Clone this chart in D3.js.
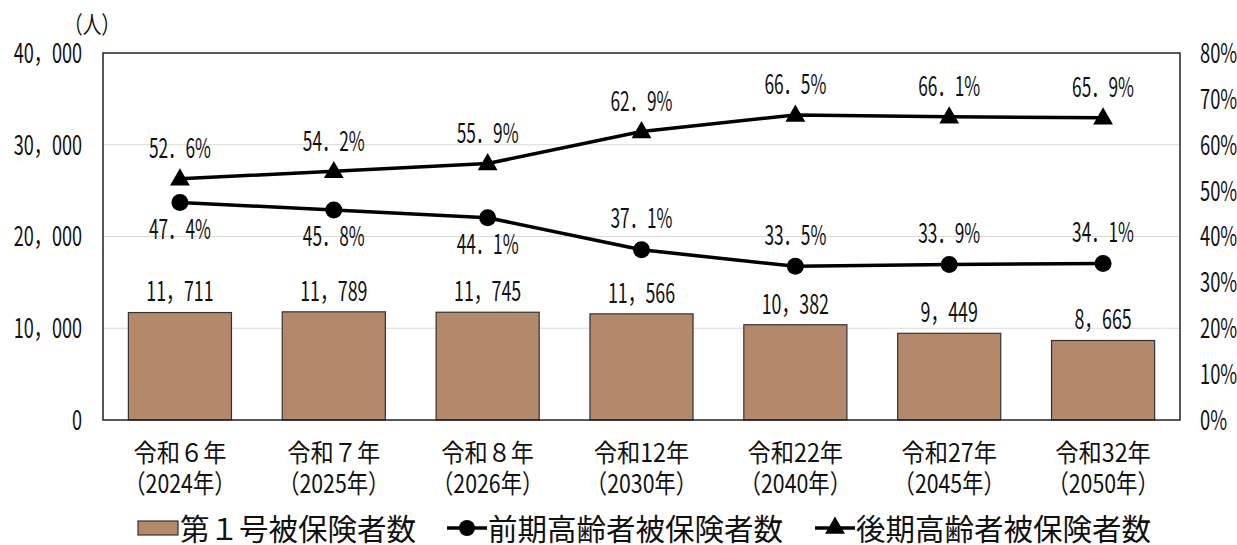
<!DOCTYPE html>
<html lang="ja">
<head>
<meta charset="utf-8">
<script src="https://cdn.jsdelivr.net/npm/d3@7"></script>
<style>
  html, body { margin: 0; padding: 0; background: #fff; }
  svg { display: block; font-family: "Noto Sans CJK JP", "Noto Sans", sans-serif; }
</style>
</head>
<body>
<svg id="chart" width="1237" height="545"></svg>
<script>
// 年度ラベル（2段表記）
const categories = ["令和６年", "令和７年", "令和８年", "令和12年", "令和22年", "令和27年", "令和32年"];
const categoryYears = ["（2024年）", "（2025年）", "（2026年）", "（2030年）", "（2040年）", "（2045年）", "（2050年）"];

// 第１号被保険者数（人）
const firstInsured = [11711, 11789, 11745, 11566, 10382, 9449, 8665];
// 前期高齢者の割合（%）
const earlyElderly = [47.4, 45.8, 44.1, 37.1, 33.5, 33.9, 34.1];
// 後期高齢者の割合（%）
const lateElderly = [52.6, 54.2, 55.9, 62.9, 66.5, 66.1, 65.9];

const leftTicks = [0, 10000, 20000, 30000, 40000];
const rightTicks = [0, 10, 20, 30, 40, 50, 60, 70, 80];

const seriesNames = ["第１号被保険者数", "前期高齢者被保険者数", "後期高齢者被保険者数"];

const svg = d3.select("#chart");
const plot = { left: 103, right: 1180, top: 53, bottom: 420 };
const barColor = "#b4886a";
const numSize = 27;

const x = d3.scaleBand()
  .domain(categories)
  .range([plot.left, plot.right])
  .paddingInner(0.33)
  .paddingOuter(0.165);
const yL = d3.scaleLinear().domain([0, 40000]).range([plot.bottom, plot.top]);
const yR = d3.scaleLinear().domain([0, 80]).range([plot.bottom, plot.top]);
const cx = c => x(c) + x.bandwidth() / 2;

// 数字の多いラベルは横方向に縮めて描く（アンカー位置を基準に縮小）
function condense(sel, factor) {
  sel.each(function () {
    const t = d3.select(this);
    const ax = +(t.attr("x") || 0);
    const prev = t.attr("transform") || "";
    t.attr("transform", `${prev} translate(${ax},0) scale(${factor},1) translate(${-ax},0)`);
  });
}

const fmtNum = d => d3.format(",")(d).replace(/,/g, "，");
const fmtPct = d => d.toFixed(1).replace(".", "．") + "%";

// 横グリッド線
svg.append("g")
  .selectAll("line")
  .data(leftTicks.filter(t => t > 0 && t < 40000))
  .join("line")
  .attr("x1", plot.left).attr("x2", plot.right)
  .attr("y1", d => yL(d)).attr("y2", d => yL(d))
  .attr("stroke", "#d9d9d9").attr("stroke-width", 1.2);

// 左軸
const axL = svg.append("g")
  .attr("transform", `translate(${plot.left},0)`)
  .call(d3.axisLeft(yL).tickValues(leftTicks).tickFormat(fmtNum).tickSize(0).tickPadding(21));
axL.select(".domain").remove();
axL.selectAll("text")
  .attr("font-family", "Noto Sans CJK JP").attr("font-size", numSize).attr("fill", "#111")
  .attr("dy", "0.35em")
  .call(condense, 0.67);

// 右軸
const axR = svg.append("g")
  .attr("transform", `translate(${plot.right},0)`)
  .call(d3.axisRight(yR).tickValues(rightTicks).tickFormat(d => d + "%").tickSize(0).tickPadding(20));
axR.select(".domain").remove();
axR.selectAll("text")
  .attr("font-family", "Noto Sans CJK JP").attr("font-size", numSize).attr("fill", "#111")
  .attr("dy", "0.35em")
  .call(condense, 0.68);

// 単位
svg.append("text")
  .attr("x", 92).attr("y", 22)
  .attr("text-anchor", "middle").attr("dominant-baseline", "central")
  .attr("font-size", 24).attr("fill", "#111")
  .text("（人）")
  .call(condense, 0.78);

// 棒グラフ
svg.append("g")
  .selectAll("rect")
  .data(firstInsured)
  .join("rect")
  .attr("x", (d, i) => x(categories[i]))
  .attr("y", d => yL(d))
  .attr("width", x.bandwidth())
  .attr("height", d => yL(0) - yL(d))
  .attr("fill", barColor)
  .attr("stroke", "#333").attr("stroke-width", 1.2);

const barLabelY = d => yL(d) - 23;
svg.append("g")
  .selectAll("text")
  .data(firstInsured)
  .join("text")
  .attr("x", (d, i) => cx(categories[i]))
  .attr("y", barLabelY)
  .attr("text-anchor", "middle").attr("dominant-baseline", "central")
  .attr("font-size", numSize).attr("fill", "#111")
  .text(fmtNum)
  .call(condense, 0.66);

// プロット枠
svg.append("rect")
  .attr("x", plot.left).attr("y", plot.top)
  .attr("width", plot.right - plot.left).attr("height", plot.bottom - plot.top)
  .attr("fill", "none").attr("stroke", "#222").attr("stroke-width", 1.5);

// 折れ線
const line = d3.line().x((d, i) => cx(categories[i])).y(d => yR(d));
[earlyElderly, lateElderly].forEach(series => {
  svg.append("path")
    .datum(series)
    .attr("d", line)
    .attr("fill", "none").attr("stroke", "#000").attr("stroke-width", 3.5)
    .attr("stroke-linejoin", "round");
});

const tri = d3.symbol().type(d3.symbolTriangle).size(170);

svg.append("g")
  .selectAll("circle")
  .data(earlyElderly)
  .join("circle")
  .attr("cx", (d, i) => cx(categories[i]))
  .attr("cy", d => yR(d))
  .attr("r", 8.5).attr("fill", "#000");

svg.append("g")
  .selectAll("path")
  .data(lateElderly)
  .join("path")
  .attr("d", tri)
  .attr("transform", (d, i) => `translate(${cx(categories[i])},${yR(d) + 1})`)
  .attr("fill", "#000");

// 割合ラベル：前期は棒の数値ラベルと重なる場合は点の上に置く
const earlyLabelY = (d, i) => {
  const below = yR(d) + 25;
  return below > barLabelY(firstInsured[i]) - 30 ? yR(d) - 33 : below;
};
svg.append("g")
  .selectAll("text")
  .data(earlyElderly)
  .join("text")
  .attr("x", (d, i) => cx(categories[i]))
  .attr("y", earlyLabelY)
  .attr("text-anchor", "middle").attr("dominant-baseline", "central")
  .attr("font-size", numSize).attr("fill", "#111")
  .text(fmtPct)
  .call(condense, 0.64);

svg.append("g")
  .selectAll("text")
  .data(lateElderly)
  .join("text")
  .attr("x", (d, i) => cx(categories[i]))
  .attr("y", d => yR(d) - 32)
  .attr("text-anchor", "middle").attr("dominant-baseline", "central")
  .attr("font-size", numSize).attr("fill", "#111")
  .text(fmtPct)
  .call(condense, 0.64);

// 横軸ラベル
const xl = svg.append("g");
xl.selectAll("text.l1")
  .data(categories)
  .join("text")
  .attr("class", "l1")
  .attr("x", d => cx(d)).attr("y", 451)
  .attr("text-anchor", "middle").attr("dominant-baseline", "central")
  .attr("font-size", 25).attr("fill", "#111")
  .text(d => d)
  .call(condense, 0.93);
xl.selectAll("text.l2")
  .data(categoryYears)
  .join("text")
  .attr("class", "l2")
  .attr("x", (d, i) => cx(categories[i])).attr("y", 482)
  .attr("text-anchor", "middle").attr("dominant-baseline", "central")
  .attr("font-size", 26).attr("fill", "#111")
  .text(d => d)
  .call(condense, 0.82);

// 凡例
const legY = 527;
const legSize = 29.5;
const leg = svg.append("g");
leg.append("rect")
  .attr("x", 138).attr("y", legY - 6).attr("width", 40).attr("height", 14)
  .attr("fill", barColor).attr("stroke", "#333").attr("stroke-width", 1.2);
leg.append("text")
  .attr("x", 180).attr("y", legY).attr("dominant-baseline", "central")
  .attr("font-size", legSize).attr("fill", "#111").text(seriesNames[0]);

leg.append("line").attr("x1", 447).attr("x2", 487).attr("y1", legY + 1).attr("y2", legY + 1)
  .attr("stroke", "#000").attr("stroke-width", 3.5);
leg.append("circle").attr("cx", 467).attr("cy", legY + 1).attr("r", 8).attr("fill", "#000");
leg.append("text")
  .attr("x", 488).attr("y", legY).attr("dominant-baseline", "central")
  .attr("font-size", legSize).attr("fill", "#111").text(seriesNames[1]);

leg.append("line").attr("x1", 815).attr("x2", 855).attr("y1", legY + 1).attr("y2", legY + 1)
  .attr("stroke", "#000").attr("stroke-width", 3.5);
leg.append("path").attr("d", tri).attr("transform", `translate(835,${legY + 1})`).attr("fill", "#000");
leg.append("text")
  .attr("x", 856).attr("y", legY).attr("dominant-baseline", "central")
  .attr("font-size", legSize).attr("fill", "#111").text(seriesNames[2]);
</script>
</body>
</html>
